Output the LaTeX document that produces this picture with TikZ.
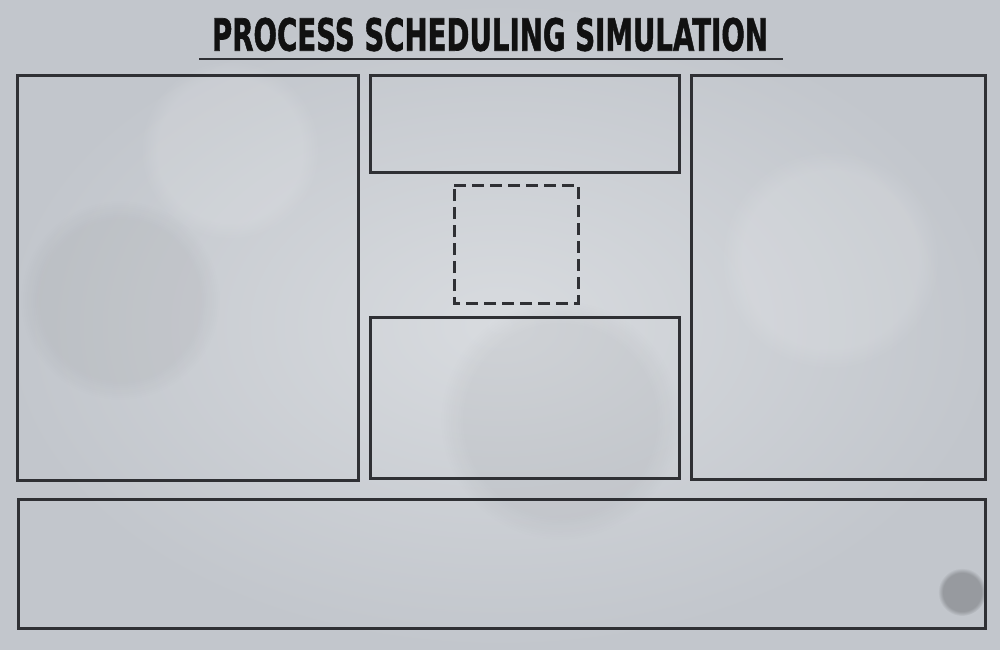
\documentclass[tikz,border=0pt]{standalone}
\usepackage{fontspec}
\usepackage{graphicx}
\usetikzlibrary{fadings}
\newfontfamily\titlefont{DejaVu Sans}[BoldFeatures={FakeBold=1.5}]
\definecolor{concrete}{RGB}{194,198,204}
\definecolor{concretelight}{RGB}{216,219,223}
\definecolor{panelline}{RGB}{47,48,52}
\definecolor{titleink}{RGB}{17,17,17}
\tikzset{
  panel/.style={draw=panelline, line width=2.25pt},
  slot/.style={draw=panelline, line width=2.25pt, dash pattern=on 9pt off 4.5pt},
  blotch/.style={path fading=circle with fuzzy edge 20 percent},
}
\begin{document}
\begin{tikzpicture}[x=0.75pt,y=0.75pt,yscale=-1,xscale=1]
%set diagram left start at 0, and has height of 650
\useasboundingbox (0,0) rectangle (1000,650);

%Shape: Background
\shade [inner color=concretelight, outer color=concrete] (0,0) rectangle (1000,650);
\fill [white, opacity=0.12, blotch] (230,150) circle (90);
\fill [white, opacity=0.12, blotch] (830,260) circle (110);
\fill [black, opacity=0.04, blotch] (560,420) circle (120);
\fill [black, opacity=0.04, blotch] (120,300) circle (100);
\fill [black, opacity=0.22, blotch] (962,592) circle (24);

% Text Node
\node (title) [text=titleink, inner sep=0pt] at (490,34.5) {\resizebox{417pt}{24.75pt}{\titlefont\bfseries PROCESS SCHEDULING SIMULATION}};
%Straight Lines
\draw [draw=panelline, line width=1.9pt] (199,59) -- (783,59) ;

%Shape: Rectangle
\draw [panel] (17,75) -- (358,75) -- (358,480) -- (17,480) -- cycle ;
%Shape: Rectangle
\draw [panel] (370,75) -- (679,75) -- (679,172) -- (370,172) -- cycle ;
%Shape: Rectangle
\draw [slot] (454,185) -- (578,185) -- (578,303) -- (454,303) -- cycle ;
%Shape: Rectangle
\draw [panel] (370,317) -- (679,317) -- (679,478) -- (370,478) -- cycle ;
%Shape: Rectangle
\draw [panel] (691,75) -- (985,75) -- (985,479) -- (691,479) -- cycle ;
%Shape: Rectangle
\draw [panel] (18,499) -- (985,499) -- (985,628) -- (18,628) -- cycle ;

\end{tikzpicture}
\end{document}
